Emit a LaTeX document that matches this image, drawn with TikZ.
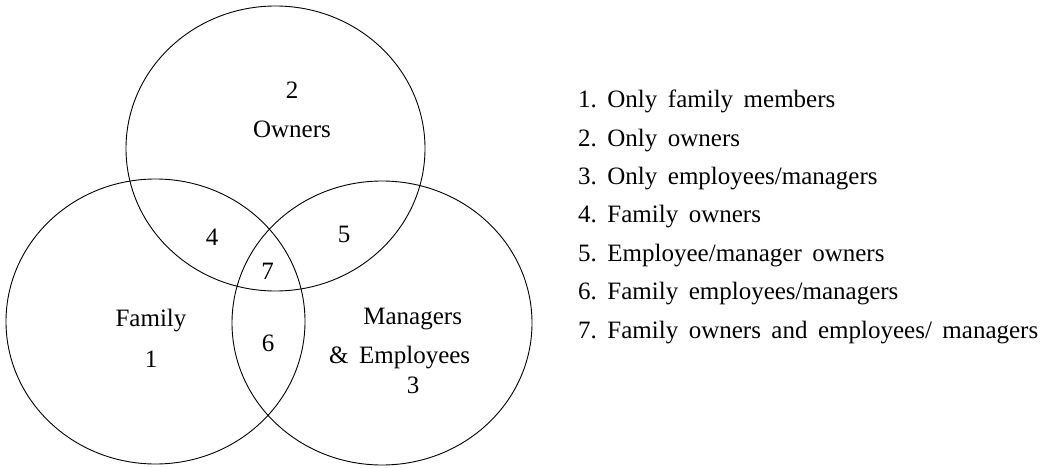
\documentclass[tikz,border=0pt]{standalone}
\usepackage{fontspec}
\setmainfont{Liberation Serif}
\newcommand{\vennfont}{\fontsize{25}{29}\selectfont\setlength{\spaceskip}{.42em}\setlength{\xspaceskip}{.42em}}

\begin{document}
\begin{tikzpicture}
  [x=1pt,y=-1pt,
   every node/.style={font=\vennfont,inner sep=0pt},
   ring/.style={line width=0.9pt,black}]
  \useasboundingbox (0,0) rectangle (1046,468);

  % the three sets
  \draw[ring] (275.5,148.5) ellipse [x radius=149.5,y radius=142.5];
  \draw[ring] (155.5,321.5) ellipse [x radius=149.5,y radius=142.5];
  \draw[ring] (382,323) ellipse [x radius=150,y radius=142];

  \node (n2)  at (292,90.5)   {2};
  \node (own) at (292,129)    {Owners};
  \node (n4)  at (212,237)    {4};
  \node (n5)  at (344,234.7)  {5};
  \node (n7)  at (267.5,271.7){7};
  \node (fam) at (151,321)    {Family};
  \node (n1)  at (151,359)    {1};
  \node (n6)  at (268,343)    {6};
  \node (man) at (412.7,319)  {Managers};
  \node (emp) at (399.7,358)  {\& Employees};
  \node (n3)  at (413,385)    {3};

  % legend
  \foreach \i/\txt in
{1/{Only family members}, 2/{Only owners}, 3/{Only employees/managers}, 4/{Family owners}, 5/{Employee/manager owners}, 6/{Family employees/managers}, 7/{Family owners and employees/ managers}}
    \node[anchor=base west] (l\i) at (578,{107.7+38.4*(\i-1)}) {\i. \txt};
\end{tikzpicture}
\end{document}
